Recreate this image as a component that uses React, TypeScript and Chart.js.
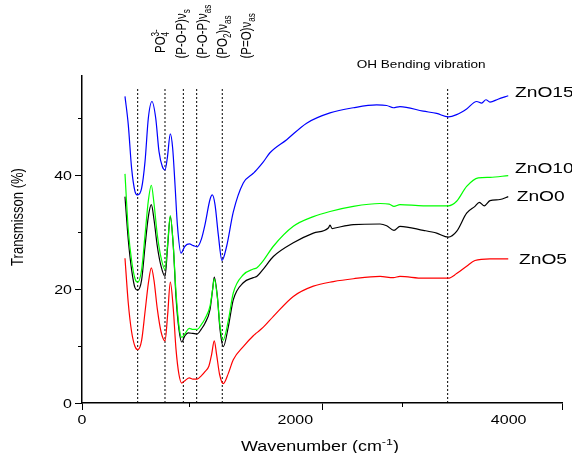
import React, { useEffect, useRef } from "react";
import { Chart, registerables } from "chart.js";

Chart.register(...registerables);

// ---- data ----
const zno15X = [403, 434, 465, 497, 522, 559, 591, 622, 656, 691, 722, 753, 778, 800, 828, 850, 872, 894, 928, 965, 1006, 1045, 1081, 1120, 1153, 1200, 1222, 1247, 1278, 1312, 1356, 1418, 1512, 1606, 1637, 1700, 1762, 1919, 2106, 2325, 2544, 2762, 2856, 2919, 2981, 3199, 3325, 3434, 3512, 3606, 3700, 3747, 3787, 3825, 3900, 3996];
const zno15Y = [53.8, 48.8, 41.2, 37.1, 36.5, 37.7, 42.4, 50.0, 52.9, 50.0, 44.1, 41.5, 40.9, 43.0, 47.2, 44.7, 38.3, 31.3, 26.3, 27.5, 27.9, 27.6, 27.4, 28.8, 31.3, 35.7, 36.5, 34.8, 29.5, 25.0, 27.5, 33.5, 38.6, 40.3, 40.9, 42.3, 43.9, 46.2, 49.1, 50.9, 51.8, 52.3, 52.2, 51.8, 52.0, 51.2, 50.8, 50.2, 50.6, 51.6, 52.9, 52.6, 53.2, 52.8, 53.3, 53.9];

const zno10X = [403, 434, 465, 497, 522, 559, 591, 622, 650, 675, 706, 741, 778, 803, 828, 856, 881, 909, 935, 970, 1006, 1040, 1078, 1120, 1153, 1200, 1225, 1240, 1269, 1294, 1322, 1372, 1418, 1512, 1606, 1637, 1700, 1794, 1981, 2169, 2325, 2544, 2794, 2880, 2925, 2981, 3199, 3434, 3512, 3606, 3715, 3825, 3996];
const zno10Y = [40.2, 30.4, 25.0, 21.8, 21.2, 23.4, 29.5, 35.5, 38.2, 35.0, 29.5, 25.5, 23.4, 28.0, 32.9, 27.5, 19.5, 13.5, 11.5, 12.3, 13.1, 12.9, 12.9, 13.8, 14.8, 17.0, 20.0, 21.8, 18.5, 13.5, 11.0, 14.5, 19.3, 22.5, 23.5, 23.7, 25.0, 27.5, 31.0, 32.7, 33.6, 34.5, 35.0, 34.9, 34.5, 34.8, 34.6, 34.6, 35.4, 38.0, 39.5, 39.6, 39.9];

const zno0X = [403, 434, 465, 497, 522, 559, 591, 622, 650, 675, 706, 741, 778, 803, 828, 856, 881, 909, 935, 965, 995, 1040, 1078, 1120, 1153, 1200, 1225, 1240, 1269, 1294, 1325, 1372, 1418, 1512, 1606, 1637, 1700, 1794, 1981, 2169, 2309, 2325, 2345, 2372, 2544, 2794, 2856, 2925, 2981, 3199, 3325, 3434, 3512, 3606, 3684, 3725, 3772, 3825, 3918, 3996];
const zno0Y = [36.2, 28.6, 23.4, 20.2, 19.8, 21.6, 27.5, 32.7, 34.8, 32.2, 27.5, 24.0, 22.2, 27.5, 32.7, 27.5, 18.7, 12.9, 10.7, 11.8, 12.3, 12.2, 12.1, 13.0, 14.0, 16.4, 20.0, 22.1, 18.7, 12.9, 9.9, 13.4, 18.1, 21.1, 22.0, 22.2, 23.5, 25.7, 28.1, 29.8, 30.7, 31.2, 30.6, 30.7, 31.3, 31.4, 31.1, 30.3, 31.0, 30.3, 29.8, 29.1, 30.1, 33.3, 34.5, 35.2, 34.6, 35.5, 35.7, 36.2];

const zno5X = [403, 434, 465, 497, 522, 559, 591, 622, 650, 675, 706, 741, 778, 803, 828, 856, 881, 909, 935, 970, 1006, 1040, 1078, 1120, 1153, 1190, 1215, 1240, 1262, 1290, 1325, 1372, 1418, 1512, 1606, 1637, 1700, 1794, 1981, 2169, 2356, 2544, 2794, 2919, 2981, 3199, 3434, 3512, 3606, 3684, 3825, 3996];
const zno5Y = [25.4, 17.5, 12.5, 9.9, 9.35, 11.0, 16.0, 21.0, 23.7, 21.5, 16.5, 12.5, 10.9, 15.5, 21.2, 16.5, 9.5, 5.0, 3.5, 4.0, 4.4, 4.2, 4.2, 4.8, 5.5, 6.5, 8.5, 10.9, 8.5, 5.0, 3.4, 5.2, 7.6, 9.9, 11.8, 12.3, 13.3, 15.2, 18.7, 20.5, 21.3, 21.8, 22.2, 22.0, 22.2, 21.9, 21.9, 22.7, 24.0, 25.0, 25.3, 25.3];

const bandPositions = [522, 778, 950, 1075, 1315, 3428];
const bandTop = 55.3;

const xTicks = [0, 2000, 4000];
const xMinorTicks = [1000, 3000];
const yTicks = [0, 20, 40];
const yMinorTicks = [10, 30, 50];

const seriesNames = ["ZnO15", "ZnO10", "ZnO0", "ZnO5"];

// ---- text helpers ----
const SX = 1.28;
const FONT = '"Liberation Sans", Arial, sans-serif';
type Piece = [string, "n" | "sub" | "sup" | "stack"];

function pieceWidth(ctx: CanvasRenderingContext2D, p: Piece, size: number) {
  if (p[1] === "n") {
    ctx.font = `${size}px ${FONT}`;
    return ctx.measureText(p[0]).width;
  }
  ctx.font = `${size * 0.7}px ${FONT}`;
  if (p[1] === "stack") {
    const [a, b] = p[0].split("|");
    return Math.max(ctx.measureText(a).width, ctx.measureText(b).width);
  }
  return ctx.measureText(p[0]).width;
}

function drawRich(
  ctx: CanvasRenderingContext2D,
  pieces: Piece[],
  x: number,
  y: number,
  size: number,
  align: "left" | "center" | "right" = "left",
  rotate = false
) {
  ctx.save();
  ctx.translate(x, y);
  ctx.scale(SX, 1);
  if (rotate) ctx.rotate(-Math.PI / 2);
  ctx.fillStyle = "#000";
  ctx.textAlign = "left";
  ctx.textBaseline = "alphabetic";
  const total = pieces.reduce((s, p) => s + pieceWidth(ctx, p, size), 0);
  let cx = align === "center" ? -total / 2 : align === "right" ? -total : 0;
  for (const p of pieces) {
    const w = pieceWidth(ctx, p, size);
    if (p[1] === "n") {
      ctx.font = `${size}px ${FONT}`;
      ctx.fillText(p[0], cx, 0);
    } else {
      ctx.font = `${size * 0.7}px ${FONT}`;
      if (p[1] === "sub") ctx.fillText(p[0], cx, size * 0.28);
      else if (p[1] === "sup") ctx.fillText(p[0], cx, -size * 0.42);
      else {
        const [a, b] = p[0].split("|");
        ctx.fillText(a, cx, -size * 0.42);
        ctx.fillText(b, cx, size * 0.28);
      }
    }
    cx += w;
  }
  ctx.restore();
}

const textPlugin = {
  id: "textPlugin",
  afterDraw(chart: any) {
    const ctx: CanvasRenderingContext2D = chart.ctx;
    const xs = chart.scales.x;
    const ys = chart.scales.y;
    const area = chart.chartArea;
    ctx.save();
    // minor ticks
    ctx.strokeStyle = "#000";
    ctx.lineWidth = 1;
    ctx.beginPath();
    for (const v of yMinorTicks) {
      const py = Math.round(ys.getPixelForValue(v)) + 0.5;
      ctx.moveTo(area.left - 4, py);
      ctx.lineTo(area.left, py);
    }
    for (const v of xMinorTicks) {
      const px = Math.round(xs.getPixelForValue(v)) + 0.5;
      ctx.moveTo(px, area.bottom);
      ctx.lineTo(px, area.bottom + 4);
    }
    ctx.stroke();
    // tick labels
    for (const v of yTicks) {
      drawRich(ctx, [[String(v), "n"]], area.left - 10, ys.getPixelForValue(v) + 4.5, 12.5, "right");
    }
    for (const v of xTicks) {
      drawRich(ctx, [[String(v), "n"]], xs.getPixelForValue(v), 423.5, 12.5, "center");
    }
    // axis titles
    drawRich(ctx, [["Wavenumber (cm", "n"], ["-1", "sup"], [")", "n"]], 320, 451, 14, "center");
    drawRich(ctx, [["Transmisson (%)", "n"]], 22.5, 217, 13, "center", true);
    // series labels
    drawRich(ctx, [[seriesNames[0], "n"]], 515, 97.3, 15);
    drawRich(ctx, [[seriesNames[1], "n"]], 515, 173.3, 15);
    drawRich(ctx, [[seriesNames[2], "n"]], 516.7, 200.7, 15);
    drawRich(ctx, [[seriesNames[3], "n"]], 519, 264, 15);
    // band labels
    drawRich(ctx, [["OH Bending vibration", "n"]], 356.7, 68.3, 10.6);
    drawRich(ctx, [["PO", "n"], ["3-|4", "stack"]], 165, 53, 11.5, "left", true);
    drawRich(ctx, [["(P-O-P)ν", "n"], ["s", "sub"]], 185.5, 58.5, 11.5, "left", true);
    drawRich(ctx, [["(P-O-P)ν", "n"], ["as", "sub"]], 207, 58.5, 11.5, "left", true);
    drawRich(ctx, [["(PO", "n"], ["2", "sub"], [")ν", "n"], ["as", "sub"]], 226.5, 58.5, 11.5, "left", true);
    drawRich(ctx, [["(P=O)ν", "n"], ["as", "sub"]], 251, 58.5, 11.5, "left", true);
    ctx.restore();
  },
};

function pts(xs: number[], ys: number[]) {
  return xs.map((x, i) => ({ x, y: ys[i] }));
}

export default function App() {
  const ref = useRef<HTMLCanvasElement | null>(null);
  useEffect(() => {
    if (!ref.current) return;
    const line = (label: string, data: any[], color: string) => ({
      label,
      data,
      borderColor: color,
      backgroundColor: color,
      borderWidth: 1.2,
      pointRadius: 0,
      fill: false,
      cubicInterpolationMode: "monotone" as const,
      order: 1,
    });
    const bands = bandPositions.map((b) => ({
      label: "band" + b,
      data: [
        { x: b, y: 0 },
        { x: b, y: bandTop },
      ],
      borderColor: "#000",
      borderWidth: 1,
      borderDash: [2, 2],
      pointRadius: 0,
      fill: false,
      order: 10,
    }));
    const chart = new Chart(ref.current, {
      type: "line",
      data: {
        datasets: [
          line(seriesNames[0], pts(zno15X, zno15Y), "#0000ff"),
          line(seriesNames[1], pts(zno10X, zno10Y), "#00ff00"),
          line(seriesNames[2], pts(zno0X, zno0Y), "#000000"),
          line(seriesNames[3], pts(zno5X, zno5Y), "#ff0000"),
          ...bands,
        ] as any,
      },
      options: {
        animation: false,
        responsive: false,
        devicePixelRatio: 1,
        layout: { padding: { top: 76, right: 10, left: 0, bottom: 0 } },
        plugins: { legend: { display: false }, tooltip: { enabled: false } },
        scales: {
          x: {
            type: "linear",
            min: 0,
            max: 4500,
            ticks: { display: false, stepSize: 2000, includeBounds: false },
            grid: { drawOnChartArea: false, drawTicks: true, tickLength: 7, color: "#000", lineWidth: 1 },
            border: { display: true, color: "#000", width: 1.5 },
            afterFit: (s: any) => {
              s.height = 50;
            },
          },
          y: {
            type: "linear",
            min: 0,
            max: 57.37,
            ticks: { display: false, stepSize: 20, includeBounds: false },
            grid: { drawOnChartArea: false, drawTicks: true, tickLength: 7, color: "#000", lineWidth: 1 },
            border: { display: true, color: "#000", width: 1.5 },
            afterFit: (s: any) => {
              s.width = 82;
            },
          },
        },
      } as any,
      plugins: [textPlugin],
    });
    return () => chart.destroy();
  }, []);
  return (
    <div style={{ position: "absolute", left: 0, top: 0, width: 572, height: 453, background: "#fff" }}>
      <canvas ref={ref} width={572} height={453} />
    </div>
  );
}
